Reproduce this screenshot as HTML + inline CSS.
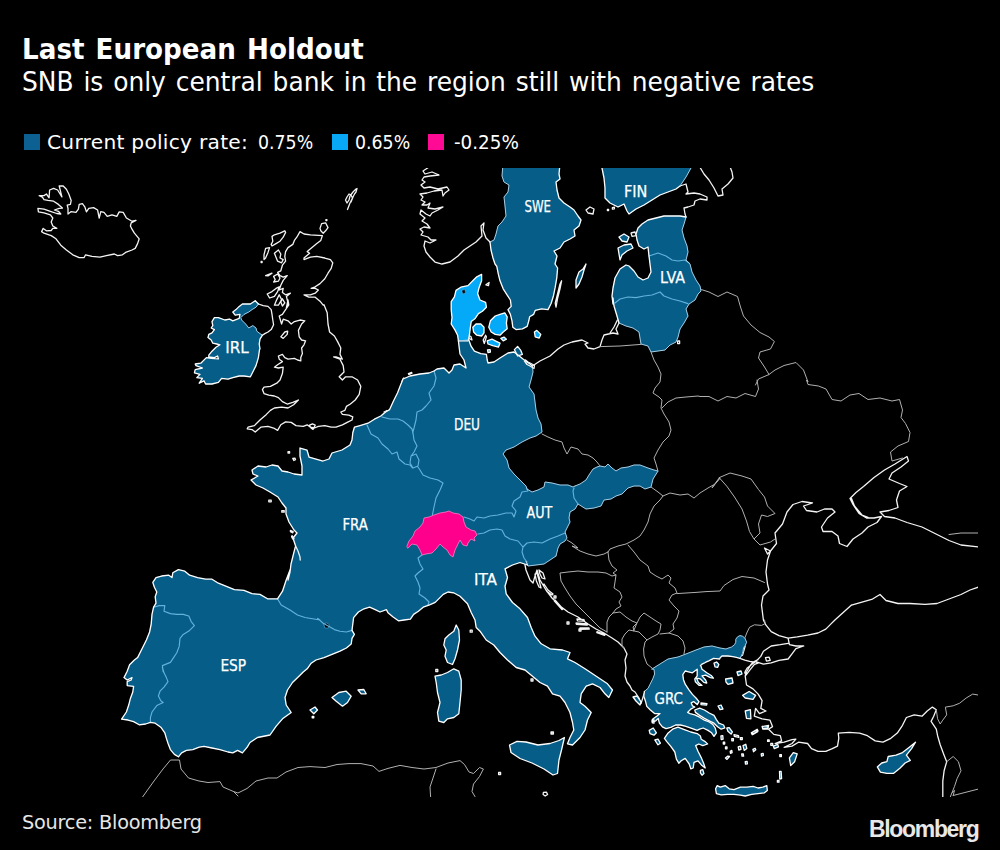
<!DOCTYPE html>
<html lang="en">
<head>
<meta charset="utf-8">
<title>Last European Holdout</title>
<style>
html,body{margin:0;padding:0;background:#000;}
body{width:1000px;height:850px;position:relative;overflow:hidden;font-family:"DejaVu Sans","Liberation Sans",sans-serif;color:#fff;}
.t{position:absolute;white-space:nowrap;line-height:1;}
#title{left:21.8px;top:35px;font-size:29px;font-weight:bold;transform-origin:0 0;transform:scaleX(0.9035);word-spacing:2.2px;}
#sub{left:21.8px;top:68.5px;font-size:26.3px;transform-origin:0 0;transform:scaleX(0.948);word-spacing:2px;}
.lg{font-size:20.2px;top:132px;}
.nx{transform-origin:0 0;transform:scaleX(0.86);}
.sq{position:absolute;top:134px;width:16px;height:16px;}
#src{left:22px;top:813.3px;font-size:19.3px;letter-spacing:-0.23px;color:#e6e6e6;}
#logo{left:869px;top:818px;font-family:"Liberation Sans",sans-serif;font-weight:bold;font-size:23px;letter-spacing:-1.33px;color:#e8e8e8;}
#map{position:absolute;left:0;top:0;}
#map .b{fill:#055d88;stroke:#fff;stroke-width:1.3;}
#map .bf{fill:#055d88;stroke:#055d88;stroke-width:0.5;}
#map .c{fill:none;stroke:#fff;stroke-width:1.3;}
#map .ld{fill:none;stroke:#a6cbe0;stroke-width:1;}
#map .lb{fill:#04a9f7;stroke:#fff;stroke-width:1.3;}
#map .pk{fill:#ff008c;stroke:#ff7cc4;stroke-width:0.8;}
#map .o{fill:none;stroke:#f4f4f4;stroke-width:1.3;}
#map .g{fill:none;stroke:#b0b0b0;stroke-width:1;}
#map .i{fill:none;stroke:#62b2dc;stroke-width:1.15;}
#map .h{fill:#000;stroke:#5aaad6;stroke-width:0.6;}
#map text{font-family:"DejaVu Sans","Liberation Sans",sans-serif;font-size:15px;fill:#fff;text-anchor:middle;stroke:#fff;stroke-width:0.25px;}
</style>
</head>
<body>
<svg id="map" width="1000" height="850" viewBox="0 0 1000 850">
<!--MAP-->
<defs><clipPath id="mc"><rect x="0" y="168" width="978" height="629"/></clipPath></defs>
<g clip-path="url(#mc)" stroke-linejoin="round" stroke-linecap="round">
<path class="o" d="M435.8,669.5 L437.8,669.5 L437.8,671.5 L435.8,671.5Z M531,679 L533,679 L533,681 L531,681Z M551,732 L553,732 L553,734 L551,734Z M470.2,630.2 L472.2,630.2 L472.2,632.2 L470.2,632.2Z M498.6,772.5 L500.6,772.5 L500.6,774.5 L498.6,774.5Z M551.4,732 L553.4,732 L553.4,734 L551.4,734Z M543.4,792.4 L546.4,792.1 L547.6,794.5 L545.2,796 L543.1,794.5Z M288,451.7 L289.6,451.7 L289.6,453.1 L288,453.1Z M292.8,458.4 L294.9,458.1 L295.5,459.7 L293.8,460.5Z M258.4,304 L263.2,305.6 L268,306.4 L271.2,309.6 L272,314.4 L272.8,320 L273.6,324.8 L271.2,329.6 L268,332 L264.8,333.6 L262.4,335.2 M402,381.6 L403.6,378 L404.8,378.8 L403.2,382.8Z M408.4,373.6 L411.6,372.4 L412,373.2 L408.8,374.6Z M381.5,416.5 L383,414.5 L386,414 L389,415 L391.5,416.5 L389,418 L385,418.5 L382.5,417.5 L381.5,416.5 M384,412 L387,410.5 L389.5,411.5 L388,413.5 M268.8,500.2 L271.2,500.2 L271.2,501.8 L268.8,501.8Z M281.8,510.6 L284.2,510.6 L284.2,512.2 L281.8,512.2Z M300,231.6 L304,234 L310.4,234.8 L318.4,235.3 L322.4,235.6 L320.8,240.4 L316.8,243.6 L312,247.6 L307.2,251.6 L309.6,253.2 L304,258 L304,259.6 L310.4,257.2 L316.8,256.4 L324.8,258 L330.4,259.6 L332.8,262.8 L331.2,268.4 L328,273.2 L324.8,278.8 L320,283.6 L315.2,286.8 L311.2,288.4 L315.2,288.4 L318.4,290 L315.2,293.2 L310.4,294.8 L304,294.8 L308.8,297.2 L315.2,297.2 L320,301.2 L323.2,305.2 L324,304.8 L327.2,312.8 L328,324 L329.6,332 L334.4,336 L337.6,341.6 L340.8,348 L340,354.4 L342.4,359.2 L336,356.8 L333.6,356.8 L340,359.2 L343.2,365.6 L344,372 L339.2,376.8 L342.4,380 L345.6,376.8 L352,376.8 L357.6,380 L360.8,386.4 L359.2,394.4 L360.8,386.4 L359.2,394.4 L355.2,400 L350.4,404 L346.4,406.4 L344.8,410.4 L340.8,412 L342.4,414.4 L348.8,415.2 L352.8,416.8 L352,420 L347.2,422.4 L342.4,424.8 L336,427.2 L331.2,427.2 L324.8,425.6 L318.4,426.4 L314.4,428 L310.4,427.2 L307.2,424.8 L303.2,426.4 L296,425.6 L291.2,422.4 L285.6,421.9 L280.8,424.8 L277.6,430.4 L273.6,428 L268,426.4 L260.8,427.2 L255.2,432 L252,429.6 L247.2,428.8 L248,427.2 L254.4,425.6 L260,420 L266.4,414.4 L270.4,410.4 L274.4,408 L281.6,407.2 L288,408 L293.6,404.8 L298.4,400 L292.8,402.4 L287.2,404 L282.4,401.6 L278.4,397.6 L274.4,396 L268.8,395.2 L264,393.6 L262.4,389.6 L264,387.2 L270.4,386.4 L276.8,383.2 L280,380 L282.4,373.6 L283.2,367.2 L278.4,368 L274.4,367.2 L277.6,364.8 L282.4,361.6 L279.2,359.2 L278.4,356 L282.4,354.4 L284.8,357.6 L288,359.2 L294.4,358.4 L297.6,360 L300.8,360.8 L300.8,357.6 L302.4,353.6 L301.6,348 L304,344.8 L305.6,340.8 L301.6,340 L299.2,336.8 L298.4,330.4 L301.6,324 L304.8,320.8 L300,320 L294.4,321.6 L291.2,324 L288,320.8 L283.2,319.2 L281.6,324 L279.2,316 L282.4,314.4 L285.6,309.6 L288.8,304.8 L288,300 L286.4,307.6 L288,302.8 L286.4,296.4 L290.4,293.2 L285.6,294.8 L282.4,292.4 L283.2,288.4 L279.2,290 L280.8,285.2 L283.2,280.4 L287.2,275.6 L283.2,277.2 L280,275.6 L277.6,272.4 L280.8,270.8 L282.4,265.2 L285.6,261.2 L284.8,256.4 L285.6,251.6 L288,247.6 L292.8,244.4 L294.4,240.4 L296.8,237.2Z M272,236.4 L274.4,234.8 L280,233.2 L284.8,230.8 L285.6,232.4 L283.2,237.2 L280,241.2 L276,243.6 L272,246 L271.2,244.4 L272.8,241.2Z M265.6,248.4 L269.6,247.6 L268,252.4 L265.6,258 L264,259.6 L264,254.8Z M274.4,253.2 L278.4,250 L280.8,254 L280,258 L283.2,259.6 L281.6,262.8 L277.6,261.2 L276,257.2Z M273.6,276.4 L277.6,274 L280,278 L278.4,281.2 L273.6,282 L275.2,279.6Z M265.6,275.6 L272,273.2 L268,275.9Z M267.2,294 L272,291.6 L276,288.4 L279.2,286.8 L277.6,291.6 L274.4,296.4 L269.6,298Z M274.4,305.2 L276.8,299.6 L279.2,294.8 L281.6,299.6 L278.4,305.2Z M282.4,298.8 L284.8,302.8 L282.4,306 L280.8,302Z M320,228.4 L321.6,223.6 L325.6,222.8 L328,227.6 L325.6,230.8 L323.2,233.2 L320.8,230.8Z M325.9,219.6 L326.9,219.6 L326.9,220.6 L325.9,220.6Z M261.1,261.5 L262.1,261.5 L262.1,262.5 L261.1,262.5Z M280.8,336.8 L284.8,332 L287.7,331.2 L287.2,334.4 L283.2,338.4Z M39.2,195.6 L44,195.6 L46.4,194 L49.1,197.8 L49.6,190 L53.6,188.4 L57.6,190 L61.9,196.9 L59.2,186 L63.2,186 L66.4,189.2 L68.8,194 L71.2,200.4 L70.4,204.4 L67.2,205.2 L68,208.4 L68,214 L71.2,211.6 L76,212.4 L78.4,209.2 L79.2,204.4 L82.4,203.6 L84.8,206.8 L86.4,211.9 L88.8,208.4 L93.6,207.6 L97.6,210 L99.2,218 L100.8,211.6 L104,212.4 L107.2,216.4 L112,214.8 L116.8,216.4 L119.2,211.9 L123.2,212.4 L126.4,218 L132,221.2 L136,220.4 L131.2,222.8 L130.4,226 L132,229.2 L134.4,233.2 L139.2,238.8 L137.6,243.6 L135.2,248.4 L132,250 L125.6,252.4 L122.4,254.8 L117.6,255.6 L114.4,254 L106.4,255.6 L100,257.2 L92,256.4 L85.6,254.8 L84,257.7 L79.2,257.7 L72.8,254.8 L66.4,250 L60.8,245.2 L56,238.8 L51.2,235.6 L44,233.2 L41.6,231.6 L43.2,228.4 L46.4,230.8 L51.2,230.5 L52.8,228.4 L56.8,228.4 L52.8,226 L51.2,222 L52.8,218 L50.4,214.8 L44,212.9 L38.4,211.9 L37.9,208.4 L44,209.2 L50.4,211.3 L56.8,213.5 L60.8,214 L58.4,211.3 L54.4,210 L59.2,208.4 L62.4,208.1 L58.4,204.4 L53.6,201.2 L48,200.4 L44,199.6 L42.4,197.2Z M347.5,209.5 L350,203 L352.5,198 L351,195 L349,194 L347,197 L345.5,200 L347,203 L349,200 L350,196 L353,192 L356,189 L357,188.5 L356,192 L354.5,194 L353,197 L351,202 M309.5,425.2 L312.5,423.8 L315.2,425.2 L313,429.5 L311,428Z M561.6,280.8 L560,288.8 L557.6,298.4 L556,307.2 L555.2,303.2 L557.6,293.6 L560,284Z M586,210 L590,207 L594,209 L593,214 L588,213Z M607.4,209.4 L608.6,209.4 L608.6,210.6 L607.4,210.6Z M612.4,207.6 L614.4,207.2 L614.4,208.8 L612.4,209.2Z M490,242 L486,238 L483,230 L484,223 L481,226 L482,236 L476,242 L470,246 L464,250 L458,256 L450,262 L442,264 L435,262 L430,257 L426,252 L424,246 L425,241 L430,243 L436,240 L431,240 L428,237 L421,235 L423,232 L420,229 L424,227 L430,228 L427,224 L422,221 L425,218 L420,214 L421,210 L426,214 L430,216 L432,213 L438,210 L443,207 L435,209 L428,208 L430,203 L427,205 L422,205 L425,202 L421,200 L423,197 L420,194 L427,193 L434,191 L442,190 L443,196 L445,193 L449,190 L447,187 L438,189 L430,187 L424,188 L421,185 L425,182 L422,180 L424,177 L430,176 L439,175 L432,172 L425,174 L423,171 L426,169 L428,167.6 M483.2,340 L485.6,335.2 L486.4,336.8 L484.3,343.5Z M485.9,284.8 L489.1,282.4 L488.5,285.6Z M468,335.2 L470.9,336.5 L472,340 L469.3,338.7Z M631,233 L635,232 L636,235.6 L632,236.4Z M677.6,341 L679.6,341 L679.6,343.6 L677.6,343.6Z M532.4,366 L540,361 L550,356 L558,349 L564,345 L572,342 L582,340 L588,343 L585,344 L588,348 L594,349 L600,346.6 L602,340 L604,335 L613,333 L618,334 L616,329 L619,323 M610,333 L614,327 L617.4,320 M680,186 L686,184 L688,192 L686,194 L694,193 L700,194 L707,197 L707,200 L700,199 L695,201 L694,205 L688,207 L684,208 L685,214 L686,217 M698,164 L704,174 L709,180 L714,188 L718,196 L723,195 L722,189 L728,184 L733,178 L732,172 L729,164 M851.5,605 L834.9,620 L831,623.9 L825.8,629.1 L818,633 L807.6,635.1 L797.2,636.9 L788.1,638.2 L779,635.6 L771.2,631.7 L766,625.2 L763.4,620 L761.5,605 L763,596 L769,590 L767.5,584 L766,572 L767.5,560 L770.5,551 L767.5,554 L764.5,548 L770.5,551 L776.5,543.5 L775,533 L782.5,524 L787,512 L793,504.5 L802,501.5 L812.5,503 L803.5,506 L806.5,510.5 L817,512 L824.5,509 L832,509 L835,512 L827.5,518 L821.5,527 L823,531.5 L832,531.5 L838,536 L839.5,543.5 L847,546.5 L853,539 L862,533 L868,527 L877,522.5 L881.5,516.5 L874,518 L866.5,518 L859,513.5 L853,504.5 L850,498.5 L856,492.5 L863.5,486.5 L874,477.5 L884.5,470 L895,464 L907,456.5 L908.5,461 L901,467 L892,473 L889,479 L899.5,483.5 L907,486.5 L899.5,491 L896.5,500 L898,507.5 L889,510.5 L880,512 L884.5,516.5 L895,518 L907,522.5 L922,527 L937,534.5 L949,540.5 L961,545 L980.5,547.1 M851.5,498.5 L854.5,506 L862,515 L868,517.4 M851.5,605 L862,602 L872.5,599 L880,594.5 L886,600.5 L898,603.5 L910,603.5 L925,604.4 L937,603.5 L949,599 L961,594.5 L970,590 L980.5,586.4 M788.1,638.2 L789.4,644.7 L795.9,646 L803.7,646 L795.9,648.6 L792,653.8 L788.1,659 L779,660.3 L771.2,662.9 L763.4,664.2 L755.6,661.6 L760.8,656.4 L763.4,651.2 L771.2,646 L780.3,644.7 L788.1,643.4 M740,658.4 L744.8,660.2 L749.6,661.4 L753.2,662 L758,659.6 L753.2,662 L749.6,666.2 L747.2,668 L745.4,671 L744.8,672.8 L746,675.2 L749.6,670.4 L754.4,664.4 L758,663.2 L755.6,661.6 L750.4,665.5 L746.5,672 L745.2,675.9 L746.5,685 L753,688.9 L758.2,694.1 L762.1,700.6 L760.8,708.4 L766,711 L759.5,713.6 L755.6,708.4 L754.3,716.2 L762.1,718.8 L769.9,720.1 L772.5,726.6 L768.6,729.2 L773.8,734.4 L780.3,735.7 L781.6,740.9 L775.1,743.5 L784.2,742.2 L792,739.6 L795.9,739.1 L792,743.5 L784.2,747.4 L792,746.1 L798.5,742.2 L807.6,743.5 L811.5,748.7 L818,751.3 L825.8,751.3 L832.3,748.7 L837.5,746.1 L838.8,738.3 L838.3,733.1 L849.2,732.3 L859.6,733.1 L867.4,735.7 L875.2,740.9 L883,742.2 L890.8,738.3 L897.3,733.1 L902.5,725.3 L906.4,717.5 L914.2,714.9 L922,716.2 L927.2,711 L932.4,707.1 L936.3,709.7 L933.7,716.2 L931.1,721.4 L936.3,729.2 L937.6,735.7 L940.2,744.8 L944.1,755.2 L946.7,761.7 L944.1,770.8 L942.8,781.2 L942.8,799.4 M765.5,657.7 L769.1,657.2 L770.2,660.3 L766.5,661.1Z M740,638.2 L743.9,639.5 L745.2,646 L742.6,655.1 L740,656.4Z M526,561 L524,560 L526,570 L530,580 L533,583 L535,576 L537,570 L540,580 L546,590 L552,598 L560,606 L568,612 L578,617 L588,624 L596,629 L604,633 L612,638 L618,642 L624,648 L627,654 L625,660 L626,668 L625,676 L627,682 L630,686 L632,690 L635,692 L639,698 L641,703.6 L644,694 M539,570 L543,573 L545,579 L542,578 L540,574Z M535,574 L537,573 L539,580 L541,588 L539,587 L536.4,581Z M544,584 L548,590 L553,594 L552,595 L547,591.6 L543.6,586Z M555,600 L563,609 L562,609.6 L554.4,601Z M577,619 L584,619.6 L584.4,621.2 L577.4,620.8Z M576,623 L587,624 L587.2,625.2 L576.4,624.4Z M580,628 L589,628 L589.2,629.2 L580.2,629.4Z M597,631.6 L605,634.4 L604.6,635.4 L596.8,632.6Z M567,622 L569,622 L569,624 L567,624Z M579,629 L581,629 L581,631 L579,631Z M554,596 L556,596 L556,598 L554,598Z"/>
<path class="g" d="M936.3,709.7 L937.6,718.8 L940.2,724 L942.8,720.1 L946.7,714.9 L945.4,707.1 L953.2,705.8 L959.7,703.2 L966.2,698 L972.7,694.1 L980.5,695.4 M946.7,761.7 L953.2,756.5 L958.4,761.7 L961,770.8 L957.1,778.6 L954.5,786.4 L951.9,792.9 L949.3,799.4 M953.2,795.5 L980.5,788.5 M951.9,792.9 L954.5,790.3 L953.2,795.5 M139,802 L154,781 L163,769 L170.5,760 L179.5,760 L181,769 L188.5,778 L199,781 L208,782.5 L220,781.6 L223,787 L233.5,791.5 L238,793 L247,788.5 L256,781 L268,778 L277,778 L286,772 L298,767.5 L310,766.6 L325,767.5 L337,764.5 L349,763.6 L361,763.6 L373,766 L379,771.4 L388,768.4 L400,765.4 L412,767.5 L424,769 L436,767.5 L448,763 L460,760.6 L464.5,764.5 L469,772 L473.5,773.5 L479.5,767.5 L483.4,769 L479.5,776.5 L473.5,784 L472,791.5 L475,796.6 M233.5,791.5 L238,796 M436,769 L433,778 L430,787 L430.6,796.6 M542,434 L548,437 L555,440 L562,442 L564,448 L567,454 L571,447 L578,449 L582,454 L588,455 L593,458 L597,462 L600,466 M658,471 L656,464 L654,458 L658,450 L663,442 L669,436 L671,430 L669,422 L664,414 L661,408 L662,400 L659,397 L653,393 L655,388 L660,382 L661,374 L658,367 L654,360 L651,352 M600,346.6 L620,346 L641,344.4 M662,408 L668,402 L676,398 L686,397 L698,396 L700,396.5 L709,396.5 L718,401 L727,396.5 L736,398 L745,393.5 L755.5,396.5 L758.5,389 L757,380 M701.5,289.6 L709,292 L718,296.5 L727,292 L737.5,296.5 L740.5,307 L743.5,316 L751,325 L760,332.5 L769,337 L774.4,341.5 L770.5,349 L760,352 L758.5,358 L764.5,367 L769,374.5 L758.5,379 L755.5,385 M769,374.5 L775,370 L784,365.5 L796,362.5 L803.5,370 L808,382 L806.5,380 L808,384.5 L818.5,386 L826,389 L832,399.5 L841,401 L850,395 L859,393.5 L868,399.5 L880,398 L892,401 L899.5,399.5 L902.5,410 L901,417.5 L905.5,423.5 L910,432.5 L908.5,441.5 L898,446 L890.5,452 L892,461 L902.5,458 M949,534.5 L961,533 L980.5,533 M719.5,477.5 L730,473 L742,476 L751,479 L758.5,489.5 L764.5,497 L767.5,506 L775,513.5 L767.5,516.5 L761.5,515 L758.5,524 L760,533 L754,539 L749.5,531.5 L746.5,521 L742,509 L734.5,497 L727,486.5Z M754,539 L760,545 L770.5,542 L775,539 M663,496 L670,493 L680,495 L688,494 L694,498 L700,493 L708,488 L715,484 L720,478 L712,488 L719.5,477.5 M651,487 L658,492 L663,496 L660,500 L654,506 L650,514 L648,522 L644,530 L640,536 L634,540 L626,544 L618,546 L610,549 L608,552 M567,540 L572,543 L578,548 L572,546 L580,551 L588,554 L596,556 L604,554 L608,552 M608,552 L609,560 L612,566 L617,570 L613,573 L616,575 L612,576 L606,573 L598,572 L588,572 L578,571 L568,572 L560,573 L561,581 L565,588 L570,596 L576,604 L582,610 L589,617 L595,623 L600,628 L607,632 M616,575 L615,582 L614,588 L620,592 L622,597 L619,602 L621,606 L616,609 L613,613 L609,617 L607,622 L607,632 M613,613 L620,612 L626,617 L632,621 L637,623 L633,627 L634,631 L629,630 L625,634 L622,639 L622,646 L624,648 M628,545 L634,552 L640,560 L648,566 L650,572 L656,576 L662,579 L668,575 L671,578 L669,583 L675,588 L677,593 L672,595 L669,600 L674,606 L679,611 L677,618 L673,624 L674,629 L669,633 M677,593.6 L686,593 L696,592.4 L706,591.6 L720,591 L724,585.5 L733,579.5 L742,576.5 L754,578 L764.5,582.5 M637,623 L640,617 L644,613 L650,617 L656,621 L661,624 L660,630 L658,634 L652,637 L647,640 L643,636 L639,632 L634,631Z M660,634 L669,633 L678,636 L683,641 L685,648 L684,654 M647,640 L645,642 L643.6,649 L644,656 L647,664 L652,668 M744.8,638 L747.2,632 L749.6,627.2 L754.4,624.8 L761.6,625.4 L765.2,623.6 L764.6,620"/>
<path class="bf" d="M178.4,756.8 L174.4,754.4 L170.4,749.6 L168,743.2 L166.4,738.4 L164.8,732.8 L160.8,727.2 L155.2,723.2 L150.4,722.4 L145.6,724 L139.2,724.8 L133.6,721.6 L128,720 L121.6,719.2 L126.4,712 L128.8,704.8 L130.4,698.4 L132.8,692 L133.6,686.4 L127.2,685.6 L127.2,681.6 L131.2,680 L132,677.6 L127.2,680 L124,677.6 L127.2,671.2 L129.6,664.8 L134.4,660 L137.6,657.6 L142.4,648 L146.4,640 L149.6,632 L151.2,624 L152,614.4 L153.6,607.2 L156,603.2 L155.2,596.8 L156.8,592 L154.4,587.2 L152.8,582.4 L156,577.6 L161.6,576 L168.8,575.2 L172,577.6 L172.8,572.8 L178.4,569.6 L184.8,571.2 L189.6,575.2 L197.6,577.6 L205.6,579.2 L212,579.2 L218.4,583.2 L226.4,586.4 L234.4,589.6 L244,590.4 L252,593.6 L260,594.4 L267.5,598.8 L277.5,598.8 L282.5,591.2 L286.2,580 L290,570 L288,580 L290,572 L291,564 L293,556 L294.6,549.6 L295.6,546 L293,538 L297,533 L294,530 L289,522 L286,514 L286,508 L282,503 L278,497 L270,492 L263,488 L256,485 L251,480 L258,476 L253,474 L252,470 L258,466 L266,467 L272,465 L278,466 L282,471 L288,472 L294,474 L302,475 L302,466 L300,456 L300,448 L307,450 L309,457 L316,459 L323,461 L329,459 L332,453 L342,450 L350,445 L352,440 L352.8,432.8 L354.4,427.2 L360,425.6 L368,423.2 L374.4,419.2 L380.8,416 L385.6,412 L389.6,409.6 L393.6,400.8 L397.6,392.8 L400,386.4 L403,379 L410,376 L420,374 L429,373 L434,371 L437,369 L444,368 L449,373 L452,370 L454,365 L460,364 L466,368 L464,360 L460,354 L459,346 L458.4,340.8 L468.8,340 L471.2,346.4 L474.4,351.2 L480.8,353.6 L486.4,354.4 L487.2,360 L488,363 L494,362 L500,358 L508,353 L514,352 L518,355 L523,359 L527,362 L530,364 L532.4,366 L532.4,366 L533,372 L531,380 L529,387 L534,394 L535,402 L536,410 L538,418 L541,424 L542,432 L536,436 L530,438 L522,442 L514,447 L506,450 L503,454 L507,460 L509,468 L514,474 L520,480 L526,486 L527,489 L532,492 L538,490 L544,487 L545,482 L552,483 L560,485 L568,485 L573,487 L575,486 L580,484 L586,480 L589,475 L593,469 L597,467 L600,466 L605,467 L608,464 L612,468 L616,471 L621,468 L628,467 L634,465 L640,465 L648,468 L654,470 L658,471 L653,479 L651,487 L645,489 L640,486 L634,486 L628,488 L622,494 L616,496 L611,499 L604,500 L601,506 L594,508 L586,509 L578,504 L575,509 L570,512 L569,518 L570,522 L567,528 L565,532 L567,538 L565,541 L560,544 L558,548 L556,556 L550,560 L544,564 L536,565 L528,566 L526,561 L527.5,565 L520,562.5 L512.5,565 L505,568.8 L507.5,577.5 L505,586.2 L506.2,593.8 L512.5,602.5 L520,608.8 L527.5,617.5 L531.2,627.5 L535,636.2 L541.2,643.8 L550,648.8 L562.5,650 L570,652.5 L567.5,658.8 L575,662.5 L585,668.8 L592.5,673.8 L600,678.8 L607.5,683.8 L612.5,690 L608.8,697.5 L605,693.8 L600,687.5 L592.5,683.8 L586.2,686.2 L581.2,693.8 L580,702.5 L585,706.2 L591.2,712.5 L587.5,720 L585,730 L580,737.5 L572.5,745 L567.5,743.8 L570,737.5 L573.8,730 L572.5,722.5 L570,712.5 L565,702.5 L560,696.2 L552.5,693.8 L547.5,686.2 L540,682.5 L532.5,676.2 L525,670 L516.2,667.5 L507.5,660 L500,652.5 L493.8,645 L486.2,640 L480,631.2 L476.2,627.5 L475,620 L471.2,612.5 L467.5,603.8 L460,596.2 L453.6,592.8 L448,592 L443.2,594.4 L439.2,598.4 L435.2,602.4 L429.6,604.8 L423.2,607.2 L418.4,611.2 L413.6,614.4 L410.4,619.2 L404,620 L398.4,620.8 L392.8,616.8 L388,612.8 L386.4,609.6 L380,612 L375.2,609.6 L369.6,607.2 L364,608.8 L358.4,612 L353.6,617.6 L352.8,624 L352,630.4 L354.4,634.4 L352,638.4 L351.2,644 L346.4,648 L340,651.2 L332,654.4 L324,657.6 L316,660 L311.2,663.2 L307.2,668.8 L303.2,672 L300,675.2 L292.5,682.5 L287.5,690 L285,697.5 L286.2,705 L291.2,712.5 L282.5,718.8 L276.2,726.2 L270,735 L257.5,737.5 L250,742.5 L247.2,747.2 L242.4,752.8 L237.6,750.4 L232.8,752.8 L228,752 L220,749.6 L212,748 L204,746.4 L199.2,747.2 L192.8,749.6 L186.4,750.4 L181.6,752.8Z M255.2,300.8 L258.4,304 L256,307.2 L252,309.6 L248.8,312 L244,314.4 L240.8,317.6 L241.6,320 L245.6,324 L248.8,328 L252.8,325.6 L256,328 L256.8,331.2 L260,333.6 L262.4,335.2 L260,339.2 L259.2,344 L260,348.8 L259.5,349.6 L258.4,357.6 L256,365.6 L252.8,372 L250.4,376.8 L244,376 L239.2,376 L232.8,377.6 L228,379.2 L221.6,378.4 L218.4,382.4 L212,384 L205.6,384 L204,380.8 L199.2,383.2 L202.4,378.4 L196.8,377.6 L200,374.4 L194.4,372.8 L195.2,369.6 L202.4,368 L196,365.6 L195.2,364 L200.8,363.2 L206.4,357.6 L211.2,358.4 L218.4,358.9 L217.6,356 L214.4,357.6 L208.8,356.8 L208.8,355.2 L212,351.2 L216,347.2 L220,344.8 L216.8,344 L212.8,343.2 L211.2,340 L208,337.6 L208.8,334.4 L212,332.8 L214.4,329.6 L211.2,328 L212.8,325.6 L212,321.6 L214.4,317.6 L218.4,317.6 L224.8,320 L229.6,319.2 L232.8,320.8 L239.2,318.4 L240,314.4 L235.2,315.2 L232.8,312 L236,309.6 L239.2,306.4 L242.4,304 L246.4,304 L250.4,304Z M503,164 L502,176 L504,182 L509,185 L508,192 L504,197 L505,206 L506,216 L502,222 L498,226 L496,234 L494,240 L490,242 L491,250 L493,258 L495,264 L496.8,266.4 L498.4,274.4 L500,280.8 L503.2,288.8 L507.2,295.2 L510.4,300 L511.2,306.4 L508,309.6 L510.4,314.4 L512,320.8 L512.8,327.2 L516,329.6 L522.4,328.8 L527.2,326.4 L528.8,320.8 L529.6,316.8 L533.6,314.4 L535.2,310.4 L541.6,308.8 L548,309.6 L551.2,303.2 L553.6,295.2 L555.2,287.2 L556.8,277.6 L557.6,268 L555,264 L557,256 L554,251 L560,248 L564,242 L570,239 L575,236 L574,230 L579,226 L581,220 L578,216 L574,210 L570,207 L564,203 L559,198 L557,190 L556,182 L560,179 L559,174 L560,164Z M601,164 L602,168 L604,178 L605,188 L605,198 L610,203 L618,207 L624,204 L627,211 L629,214 L636,209 L644,205 L652,200 L660,195 L668,192 L676,189 L680,186 L686,177 L691,168 L693,164Z M686,217 L680,216 L672,216 L664,216 L656,218 L648,220 L642,224 L638,228 L636,234 L637,240 L639,246 L644,249 L648,247 L649,256 L650,264 L651,272 L648,278 L643,280 L638,277 L634,271 L629,266 L626,265 L620,269 L615,278 L613,288 L612,296 L613,304 L613,298 L614,306 L617,316 L619,323 L626,326 L633,328 L639,332 L640,338 L641,344 L648,346 L651,352 L658,351 L665,350 L670,345 L676,342 L678,337 L680,329 L684,323 L688,316 L686,309 L689,304 L695,300 L698,294 L701,291 L700,286 L696,280 L692,272 L690,264 L686,260 L688,252 L687,246 L684,238 L682,230 L684,224Z M652,669 L660,664 L668,659 L678,657 L686,654 L696,650 L704,647 L712,646 L720,648 L726,649 L728,648.2 L731.6,647 L734.6,644.6 L735.8,642.2 L735.8,639.2 L737.6,636.8 L740,635.6 L742.4,636.2 L744.8,638 L746.6,642.2 L745.4,645.2 L743.6,647.6 L743,651.2 L742.4,653.6 L741.2,656 L740,658.4 L736.4,657.4 L732.8,656.6 L728,656 L722,656 L720.2,657.8 L719.6,659 L716,658.6 L713.6,658.4 L711.2,659.6 L708.8,660.8 L705.8,662.2 L704,663.2 L701.6,664.4 L700.4,665.6 L700.8,665.6 L702,669.2 L706.8,672.8 L711.6,675.8 L713.4,678.2 L710.4,677.6 L705.6,675.2 L702,675.8 L705.6,680 L706.8,683 L703.8,682.4 L700.2,678.8 L696.6,678.2 L698.4,682.4 L702,685.4 L699,685.4 L695.4,681.8 L694.8,678.8 L697.2,675.8 L697.2,669.2 L692.4,672.8 L687.6,671.6 L685.2,671 L682.8,674.6 L683.4,679.4 L685.2,684.2 L688.8,689.6 L692.4,694.4 L696,698 L699,701.6 L697.2,704.6 L693.6,701.6 L691.2,702.8 L692.4,705.8 L694.8,707 L691.2,708.8 L687.6,712.4 L690,713.6 L694.8,714.8 L699.6,717.2 L704.4,720.2 L709.2,722 L712.8,724.4 L715.2,728 L716.4,732.8 L714,736.4 L711.6,732.8 L708,730.4 L703.2,728 L699.6,729.2 L697.2,730.4 L692.4,728.6 L685.2,726.2 L680.4,725 L675.6,725 L670.8,727.4 L666,728.6 L662.4,726.8 L659.4,723.2 L658.2,718.4 L655.8,720.8 L652.2,722 L652.8,719 L657,716 L660,713.6 L654.6,713.6 L650.4,710 L646.8,706.4 L645.6,701.6 L643.8,696.2 L644.4,691.4 L648,688.4 L649.8,684.8 L652.8,678.8 L654.6,674 L654,669.2Z"/>
<path class="b" d="M509.5,745 L517,741.4 L526,742 L538,745 L550,743.5 L559,740.5 L564.4,737.5 L562,748 L559,760 L557.5,773.5 L553,775 L544,769 L532,763 L520,758.5 L511,752.5Z M456.2,625 L458.8,630 L459.5,640 L457.5,650 L455,658.8 L452.5,664.5 L447.5,662.5 L445,656.2 L446.2,650 L443.8,645 L445,638.8 L448.8,635 L453.8,631.2Z M453.8,668.8 L458.8,671.2 L461.2,680 L461.2,690 L460,702.5 L458.8,713.8 L453.8,717.5 L447.5,718.8 L443.8,722.5 L438.8,721.2 L437.5,712.5 L440,702.5 L437.5,692.5 L436.2,682.5 L435,676.2 L441.2,675 L447.5,672.5Z M332,697.5 L338.8,692.5 L346.2,691.2 L351.2,696.2 L347.5,702.5 L342.5,706.2 L336.2,701.2Z M358,690 L363.8,689.5 L366.2,693.8 L361.2,693.8Z M310,710 L315,707 L317.5,710 L313.8,713.8Z M312.2,716.5 L313.8,716.5 L313.8,717.8 L312.2,717.8Z M586,264 L583,269 L579,272 L576,280 L576,288 L579,284 L582,277 L584,270Z M487.5,349.9 L490.1,349.6 L490.4,352 L488,352.5Z M514.4,349.6 L517.6,346.4 L520.8,350.4 L522.4,354.4 L517.6,356 L516,352.8Z M619,237 L624,234 L629,237 L627,242 L622,241Z M618,248 L624,245 L631,244 L633,248 L627,251 L622,255 L620,260 L619,254Z M694.8,710 L699.6,708.2 L704.4,710 L709.2,713 L714,715.4 L716.4,719.6 L718.8,723.2 L723.6,725 L724.8,728 L721.2,729.2 L717.6,726.8 L714,723.2 L709.2,720.8 L704.4,718.4 L699.6,715.4 L695.4,712.4Z M664.4,738.4 L667.6,733.6 L673.2,728.8 L678,727.2 L684.4,729.6 L690.8,732 L697.2,733.6 L700.4,736 L701.2,739.2 L705.2,741.6 L707.6,744 L702.8,745.6 L698.8,744 L695.6,745.6 L698,751.2 L701.2,757.6 L703.6,763.2 L705.2,768 L702,765.6 L698,760.8 L694,762.4 L693.2,768 L690.8,768.8 L689.2,764 L685.2,758.4 L681.2,760.8 L678.8,763.2 L676.4,759.2 L674.8,752 L670.8,746.4 L666.8,741.6Z M700.4,770.4 L702.8,769.6 L703.9,773.6 L702,775.2 L700.4,772.8Z M715.6,788.8 L717.2,785.6 L720.4,787.2 L725.2,785.6 L729.2,788.8 L734,789.6 L740.4,787.2 L746.8,787.2 L753.2,786.4 L758,788 L762.8,787.2 L766.8,785.6 L767.3,790.4 L764.4,792.8 L758,793.6 L751.6,794.4 L745.2,796 L740.4,795.2 L734,794.4 L727.6,794.4 L721.2,794.9 L716.4,793.6Z M633,697 L637,696 L641,702 L640,705 L636,701Z M649.2,730.4 L653.2,728 L656.4,732.8 L654,735.2 L650,733.6Z M654.8,740 L658,739.2 L660.4,743.2 L658,744.8Z M652.1,720 L654,720 L654,723.2 L652.4,722.9Z M714,663.2 L716.6,662 L718.8,664.4 L717.6,667.4 L715,666.8Z M737,672 L741,671 L742,674 L738,675.6Z M725.6,679 L732,678 L733,683 L728,684.4 L726,682Z M742.6,695.4 L749.1,691.5 L755.6,695.4 L753,699.3 L745.2,698Z M745.2,711 L750.4,709.7 L750.9,718.8 L746.5,718.3Z M762.1,726.6 L768.6,725.3 L767.8,729.2 L762.9,729.2Z M752.2,732.3 L756.9,730 L757.7,731.8 L753,734.4Z M789.4,757.8 L793.3,752.6 L797.2,753.9 L794.6,761.7 L790.7,765.6Z M773.3,746.1 L777.7,744.3 L778.5,746.9 L774.3,748.7Z M779.5,771.3 L781.1,771.3 L781.6,778.6 L779.8,779.1Z M777.4,780.4 L779,780.4 L779,782.2 L777.4,782.2Z M718,706 L721,705 L723,709 L720,709.6Z M701,703 L707,703.6 L706.6,705.2 L701,704.6Z M726.8,728 L729.2,727.7 L732.4,732 L731.1,734.1 L727.9,731.2Z M734,734.7 L738.5,735.7 L738.8,737.3 L734.3,736.3Z M720.9,736 L722.8,735.7 L723.1,739.2 L721.2,739.5Z M723.3,742.1 L724.7,742.1 L724.7,744 L723.3,744Z M725.5,746.9 L727,746.9 L727,748.8 L725.5,748.8Z M730.2,751.4 L731.8,750.4 L732.1,752.6 L730.5,753.3Z M725.4,758.1 L727.6,756.2 L729.5,756.5 L727,759.4Z M738.2,746.9 L740.4,746.2 L741,749.4 L738.8,750.1Z M743,745.6 L745.8,744.3 L746.8,748.5 L744.2,750.4Z M741.7,753.9 L743.3,753.9 L743.6,756.2 L742,756.2Z M745.2,761.6 L747.1,761.3 L747.4,763.8 L745.5,764.2Z M752.9,749.4 L755.1,748.2 L755.8,749.8 L753.5,751.7Z M761.2,753.9 L763.1,753.3 L763.4,755.5 L761.5,756.2Z M731.8,738.6 L733.4,738.6 L733.4,740.8 L731.8,740.8Z M740.4,737.6 L742.3,737.6 L742.3,739.5 L740.4,739.5Z M751.3,732.8 L757.2,729.3 L758,730.9 L752.2,734.7Z M762.2,726.4 L767.6,725.8 L768.2,728 L762.8,728.6Z M767.6,739.8 L769.2,739.8 L769.2,741.4 L767.6,741.4Z M770.8,743.4 L772.7,743.4 L772.7,745.3 L770.8,745.3Z M779.8,754.6 L781.4,754.6 L781.4,756.5 L779.8,756.5Z M877.3,766.9 L881.7,763 L886.9,761.7 L888.2,756.5 L896,755.2 L902.5,752.6 L909,747.4 L915.5,742.2 L911.6,748.7 L906.4,755.2 L910.3,760.4 L905.1,763 L899.9,768.2 L893.4,773.4 L886.9,773.4 L880.4,772.1Z"/>
<path class="lb" d="M481.6,274.4 L481.6,280.8 L479.2,287.2 L477.6,293.6 L480,300 L485.6,302.4 L486.4,307.2 L482.4,311.2 L478.4,313.6 L475.2,318.4 L471.2,321.6 L470.4,327.2 L469.6,333.6 L468.8,338.4 L468,340.8 L458.4,340.8 L457.6,335.2 L455.2,330.4 L451.2,324 L452,317.6 L451.2,309.6 L451.2,301.6 L454.4,296.8 L456,290.4 L460.8,287.2 L468,285.6 L472.8,280.8 L476.8,276.8Z M472.8,327.2 L476,324 L480.8,324 L484,327.2 L484,332.8 L481.6,336 L476.8,335.2 L473.6,332Z M490.4,320.8 L495.2,316 L500,314.4 L504.8,312.8 L507.2,316.8 L506.4,323.2 L507.2,328.8 L503.2,332 L500,335.2 L495.2,334.4 L491.2,332 L488.8,327.2Z M487.2,340.8 L492,339.2 L496.8,341.6 L500,343.2 L498.4,347.2 L492.8,345.6 L488,344Z M500.8,338.4 L504,337.1 L506.4,339.2 L503.2,340.8Z M534.4,332 L536.8,330.4 L540.8,334.4 L539.2,338.1 L535.2,336.8Z"/>
<path class="h" d="M324,624 L326.4,622.9 L329.3,624.8 L328.5,628 L325.3,628Z M461.9,290.4 L464.8,289.6 L465.6,292.8 L462.9,293.9Z"/>
<path class="i" d="M153.6,607.2 L159.2,605.6 L164.8,605.6 L164,611.2 L170.4,613.6 L176.8,614.4 L183.2,614.4 L188.8,616 L191.2,621.6 L194.4,625.6 L189.6,630.4 L183.2,634.4 L180,638.4 L179.2,646.4 L176.8,652.8 L173.6,657.6 L170.4,662.4 L162.4,665.6 L163.2,672 L162.4,667.2 L164,672.8 L166.4,677.6 L168,681.6 L164,687.2 L160,691.2 L158.4,696 L160.8,700.8 L163.2,702.4 L156.8,705.6 L152,712 L150.4,717.6 L150.4,722.4 M277.5,598.8 L281.2,605 L290,610 L297.5,615 L305,617.5 L312.5,618.8 L320,620 L317.6,618.4 L323.2,623.2 L330.4,627.2 L334.4,629.6 L340,631.2 L346.4,632 L352,630.4 M422,555 L418,558 L420,564 L423,569 L418,573 L415,576 L418,582 L420,588 L419,594 L425,598 L429,602 L428,605 M418,467 L420,470 L423,475 L430,478 L438,480 L443,483 L440,490 L436,498 L434,507 L432.4,515 M367,425 L371,434 L378,438 L382,444 L388,449 L392,454 L397,452 L399,459 L405,464 L410,465 L412.4,468 M411,456 L416,454 L419,460 L418,466 L413,468 L410,463Z M382,417 L390,419 L398,419 L403,421 L408,425 L412,429 L413,433 L414,440 L417,446 L414,452 L411,456 M434,371 L436,378 L434,386 L429,393 L431,400 L426,406 L422,410 L417,412 L416,420 L414,428 L412.6,433 M464,517 L470,519 L474,521 L477,517 L484,518 L490,516 L498,515 L506,513 L512,513 L514,517 L516,511 L512,506 L514,501 L520,497 L522,492 L528,491 L527,489 M478,534 L484,533 L490,530 L497,529 L502,530 L505,536 L510,539 L518,541 L523,547 L527,543 L534,542 L542,543 L550,539 L558,536 L565,533 M523,547 L522,552 L524,558 L527,562 M574,488 L573,491 L574,498 L578,504 M649,256 L658,253 L666,256 L672,260 L678,261 L685,260 L689,263 M615,303 L620,299 L628,297 L636,297.6 L644,296 L652,295 L660,292 L664,296 L672,299 L680,301 L688,303.6"/>
<path class="pk" d="M407,546 L409,541 L413,536 L415,531 L420,527 L423,523 L424,518 L429,517 L434,515 L440,513 L446,512 L449,511 L453,513 L459,514 L463,517 L464,522 L466,527 L471,530 L475,531 L477,535 L474,538 L475,541 L471,539 L468,543 L467,546 L463,545 L460,540 L458,544 L455,550 L453,557 L450,555 L447,550 L443,547 L440,544 L436,549 L432,553 L426,554 L422,555 L420,550 L417,545 L412,544 L408,548Z"/>
<path class="ld" d="M458.4,340.8 L468.8,340 M532.4,366 L533,372 L531,380 L529,387 L534,394 L535,402 L536,410 L538,418 L541,424 L542,432 L536,436 L530,438 L522,442 L514,447 L506,450 L503,454 L507,460 L509,468 L514,474 L520,480 L526,486 L527,489 M527,489 L532,492 L538,490 L544,487 L545,482 L552,483 L560,485 L568,485 L573,487 L575,486 M575,486 L580,484 L586,480 L589,475 L593,469 L597,467 L600,466 L605,467 L608,464 L612,468 L616,471 L621,468 L628,467 L634,465 L640,465 L648,468 L654,470 L658,471 L653,479 L651,487 L645,489 L640,486 L634,486 L628,488 L622,494 L616,496 L611,499 L604,500 L601,506 L594,508 L586,509 L578,504 L575,509 L570,512 L569,518 L570,522 L567,528 L565,532 L567,538 L565,541 L560,544 L558,548 L556,556 M556,556 L550,560 L544,564 L536,565 L528,566 L526,561 L527.5,565 M258.4,304 L256,307.2 L252,309.6 L248.8,312 L244,314.4 L240.8,317.6 L241.6,320 L245.6,324 L248.8,328 L252.8,325.6 L256,328 L256.8,331.2 L260,333.6 L262.4,335.2 M503,164 L502,176 L504,182 L509,185 L508,192 L504,197 L505,206 L506,216 L502,222 L498,226 L496,234 L494,240 L490,242 M680,186 L686,177 L691,168 L693,164 L601,164 M619,323 L626,326 L633,328 L639,332 L640,338 L641,344 L648,346 L651,352 L658,351 L665,350 L670,345 L676,342 L678,337 L680,329 L684,323 L688,316 L686,309 L689,304 L695,300 L698,294 L701,291 L700,286 L696,280 L692,272 L690,264 L686,260 L688,252 L687,246 L684,238 L682,230 L684,224 L686,217 M652,669 L660,664 L668,659 L678,657 L686,654 L696,650 L704,647 L712,646 L720,648 L726,649 L728,648.2 L731.6,647 L734.6,644.6 L735.8,642.2 L735.8,639.2 L737.6,636.8 L740,635.6 L742.4,636.2 L744.8,638 L746.6,642.2 L745.4,645.2 L743.6,647.6 L743,651.2 L742.4,653.6 L741.2,656 L740,658.4 M644.4,691.4 L648,688.4 L649.8,684.8 L652.8,678.8 L654.6,674 L654,669.2 L652,669"/>
<path class="c" d="M178.4,756.8 L174.4,754.4 L170.4,749.6 L168,743.2 L166.4,738.4 L164.8,732.8 L160.8,727.2 L155.2,723.2 L150.4,722.4 L145.6,724 L139.2,724.8 L133.6,721.6 L128,720 L121.6,719.2 L126.4,712 L128.8,704.8 L130.4,698.4 L132.8,692 L133.6,686.4 L127.2,685.6 L127.2,681.6 L131.2,680 L132,677.6 L127.2,680 L124,677.6 L127.2,671.2 L129.6,664.8 L134.4,660 L137.6,657.6 M137.6,657.6 L142.4,648 L146.4,640 L149.6,632 L151.2,624 L152,614.4 L153.6,607.2 L156,603.2 L155.2,596.8 L156.8,592 L154.4,587.2 L152.8,582.4 L156,577.6 L161.6,576 L168.8,575.2 L172,577.6 L172.8,572.8 L178.4,569.6 L184.8,571.2 L189.6,575.2 L197.6,577.6 L205.6,579.2 L212,579.2 L218.4,583.2 L226.4,586.4 L234.4,589.6 L244,590.4 L252,593.6 L260,594.4 L267.5,598.8 M267.5,598.8 L277.5,598.8 L282.5,591.2 L286.2,580 L290,570 L288,580 M288,580 L290,572 L291,564 L293,556 L294.6,549.6 L295.6,546 L293,538 L297,533 L294,530 L289,522 L286,514 L286,508 L282,503 L278,497 L270,492 L263,488 L256,485 L251,480 L258,476 L253,474 L252,470 L258,466 L266,467 L272,465 L278,466 L282,471 L288,472 L294,474 L302,475 L302,466 L300,456 L300,448 L307,450 L309,457 L316,459 L323,461 L329,459 L332,453 L342,450 L350,445 L352,440 L352.8,432.8 M352.8,432.8 L354.4,427.2 L360,425.6 L368,423.2 L374.4,419.2 L380.8,416 L385.6,412 L389.6,409.6 L393.6,400.8 L397.6,392.8 L400,386.4 L403,379 M403,379 L410,376 L420,374 L429,373 L434,371 L437,369 L444,368 L449,373 L452,370 L454,365 L460,364 L466,368 L464,360 L460,354 L459,346 L458.4,340.8 M468.8,340 L471.2,346.4 L474.4,351.2 L480.8,353.6 L486.4,354.4 L487.2,360 L488,363 M488,363 L494,362 L500,358 L508,353 L514,352 L518,355 L523,359 L527,362 L530,364 L532.4,366 L532.4,366 M527.5,565 L520,562.5 L512.5,565 L505,568.8 L507.5,577.5 L505,586.2 L506.2,593.8 L512.5,602.5 L520,608.8 L527.5,617.5 L531.2,627.5 L535,636.2 L541.2,643.8 L550,648.8 L562.5,650 L570,652.5 L567.5,658.8 L575,662.5 L585,668.8 L592.5,673.8 L600,678.8 L607.5,683.8 L612.5,690 L608.8,697.5 L605,693.8 L600,687.5 L592.5,683.8 L586.2,686.2 L581.2,693.8 L580,702.5 L585,706.2 L591.2,712.5 L587.5,720 L585,730 L580,737.5 L572.5,745 L567.5,743.8 L570,737.5 L573.8,730 L572.5,722.5 L570,712.5 L565,702.5 L560,696.2 L552.5,693.8 L547.5,686.2 L540,682.5 L532.5,676.2 L525,670 L516.2,667.5 L507.5,660 L500,652.5 L493.8,645 L486.2,640 L480,631.2 L476.2,627.5 L475,620 L471.2,612.5 L467.5,603.8 L460,596.2 L453.6,592.8 M453.6,592.8 L448,592 L443.2,594.4 L439.2,598.4 L435.2,602.4 L429.6,604.8 L423.2,607.2 L418.4,611.2 L413.6,614.4 L410.4,619.2 L404,620 L398.4,620.8 L392.8,616.8 L388,612.8 L386.4,609.6 L380,612 L375.2,609.6 L369.6,607.2 L364,608.8 L358.4,612 L353.6,617.6 L352.8,624 L352,630.4 L354.4,634.4 L352,638.4 L351.2,644 L346.4,648 L340,651.2 L332,654.4 L324,657.6 L316,660 L311.2,663.2 L307.2,668.8 L303.2,672 L300,675.2 L292.5,682.5 M292.5,682.5 L287.5,690 L285,697.5 L286.2,705 L291.2,712.5 L282.5,718.8 L276.2,726.2 L270,735 L257.5,737.5 L250,742.5 L247.2,747.2 M247.2,747.2 L242.4,752.8 L237.6,750.4 L232.8,752.8 L228,752 L220,749.6 L212,748 L204,746.4 L199.2,747.2 L192.8,749.6 L186.4,750.4 L181.6,752.8 L178.4,756.8 M255.2,300.8 L258.4,304 M262.4,335.2 L260,339.2 L259.2,344 L260,348.8 L259.5,349.6 L258.4,357.6 L256,365.6 L252.8,372 L250.4,376.8 L244,376 L239.2,376 L232.8,377.6 L228,379.2 L221.6,378.4 L218.4,382.4 L212,384 L205.6,384 L204,380.8 L199.2,383.2 L202.4,378.4 L196.8,377.6 L200,374.4 L194.4,372.8 L195.2,369.6 L202.4,368 L196,365.6 L195.2,364 L200.8,363.2 L206.4,357.6 L211.2,358.4 L218.4,358.9 L217.6,356 L214.4,357.6 L208.8,356.8 L208.8,355.2 L212,351.2 L216,347.2 L220,344.8 L216.8,344 L212.8,343.2 L211.2,340 L208,337.6 L208.8,334.4 L212,332.8 L214.4,329.6 L211.2,328 L212.8,325.6 L212,321.6 L214.4,317.6 L218.4,317.6 L224.8,320 L229.6,319.2 L232.8,320.8 L239.2,318.4 L240,314.4 L235.2,315.2 L232.8,312 L236,309.6 L239.2,306.4 L242.4,304 L246.4,304 L250.4,304 L255.2,300.8 M490,242 L491,250 L493,258 L495,264 L496.8,266.4 L498.4,274.4 L500,280.8 L503.2,288.8 L507.2,295.2 L510.4,300 L511.2,306.4 L508,309.6 L510.4,314.4 L512,320.8 L512.8,327.2 L516,329.6 L522.4,328.8 L527.2,326.4 L528.8,320.8 L529.6,316.8 L533.6,314.4 L535.2,310.4 L541.6,308.8 L548,309.6 L551.2,303.2 L553.6,295.2 L555.2,287.2 L556.8,277.6 L557.6,268 L555,264 L557,256 L554,251 L560,248 L564,242 L570,239 L575,236 L574,230 L579,226 L581,220 L578,216 L574,210 L570,207 L564,203 L559,198 L557,190 L556,182 L560,179 L559,174 L560,164 L503,164 M601,164 L602,168 L604,178 L605,188 L605,198 L610,203 L618,207 L624,204 L627,211 L629,214 L636,209 L644,205 L652,200 L660,195 L668,192 L676,189 L680,186 M686,217 L680,216 L672,216 L664,216 L656,218 L648,220 L642,224 L638,228 L636,234 L637,240 L639,246 L644,249 L648,247 L649,256 L650,264 L651,272 L648,278 L643,280 L638,277 L634,271 L629,266 L626,265 L620,269 L615,278 L613,288 L612,296 L613,304 L613,298 L614,306 L617,316 L619,323 M740,658.4 L736.4,657.4 L732.8,656.6 L728,656 L722,656 L720.2,657.8 L719.6,659 L716,658.6 L713.6,658.4 L711.2,659.6 L708.8,660.8 L705.8,662.2 L704,663.2 L701.6,664.4 L700.4,665.6 L700.8,665.6 L702,669.2 L706.8,672.8 L711.6,675.8 L713.4,678.2 L710.4,677.6 L705.6,675.2 L702,675.8 L705.6,680 L706.8,683 L703.8,682.4 L700.2,678.8 L696.6,678.2 L698.4,682.4 L702,685.4 L699,685.4 L695.4,681.8 L694.8,678.8 L697.2,675.8 L697.2,669.2 L692.4,672.8 L687.6,671.6 L685.2,671 L682.8,674.6 L683.4,679.4 L685.2,684.2 L688.8,689.6 L692.4,694.4 L696,698 L699,701.6 L697.2,704.6 L693.6,701.6 L691.2,702.8 L692.4,705.8 L694.8,707 L691.2,708.8 L687.6,712.4 L690,713.6 L694.8,714.8 L699.6,717.2 L704.4,720.2 L709.2,722 L712.8,724.4 L715.2,728 L716.4,732.8 L714,736.4 L711.6,732.8 L708,730.4 L703.2,728 L699.6,729.2 L697.2,730.4 L692.4,728.6 L685.2,726.2 L680.4,725 L675.6,725 L670.8,727.4 L666,728.6 L662.4,726.8 L659.4,723.2 L658.2,718.4 L655.8,720.8 L652.2,722 L652.8,719 L657,716 L660,713.6 L654.6,713.6 L650.4,710 L646.8,706.4 L645.6,701.6 L643.8,696.2 L644.4,691.4"/>
<path class="o" d="M295.6,546 L298,551 L300,557 L300.2,560 M290.4,530.4 L293.2,531.6 L292.8,532.8 L290.4,531.6Z M292,535.6 L294,538.4 L293,539.2 L291.6,536.8Z M524.5,361 L527,364.5 L530,366 L534,368.5 L534.5,365.5 L531,363.5 L528,362 L525.5,360"/>
</g>
<text x="237" y="353.2" textLength="23.5" lengthAdjust="spacingAndGlyphs">IRL</text>
<text x="537.7" y="212.3" textLength="26.6" lengthAdjust="spacingAndGlyphs">SWE</text>
<text x="635.7" y="196.5" textLength="23.4" lengthAdjust="spacingAndGlyphs">FIN</text>
<text x="672.5" y="282.9" textLength="25" lengthAdjust="spacingAndGlyphs">LVA</text>
<text x="467" y="430.3" textLength="26" lengthAdjust="spacingAndGlyphs">DEU</text>
<text x="355.2" y="529.7" textLength="25.6" lengthAdjust="spacingAndGlyphs">FRA</text>
<text x="539.5" y="517.9" textLength="25.8" lengthAdjust="spacingAndGlyphs">AUT</text>
<text x="485.5" y="585.3" textLength="23" lengthAdjust="spacingAndGlyphs">ITA</text>
<text x="233.3" y="671.4" textLength="25.8" lengthAdjust="spacingAndGlyphs">ESP</text>
<text x="668.7" y="703.7" textLength="28.4" lengthAdjust="spacingAndGlyphs">GRC</text>
<!--/MAP-->
</svg>
<div class="t" id="title">Last European Holdout</div>
<div class="t" id="sub">SNB is only central bank in the region still with negative rates</div>
<div class="sq" style="left:24.4px;background:#0c6092"></div>
<div class="t lg" id="l1" style="left:47px;letter-spacing:0.26px">Current policy rate:</div>
<div class="t lg nx" id="l1b" style="left:257.8px">0.75%</div>
<div class="sq" style="left:331.8px;background:#08a8f6"></div>
<div class="t lg nx" id="l2" style="left:354.9px">0.65%</div>
<div class="sq" style="left:428.4px;background:#ff0a94"></div>
<div class="t lg nx" id="l3" style="left:453.7px;transform:scaleX(0.908)">-0.25%</div>
<div class="t" id="src">Source: Bloomberg</div>
<div class="t" id="logo">Bloomberg</div>
</body>
</html>
